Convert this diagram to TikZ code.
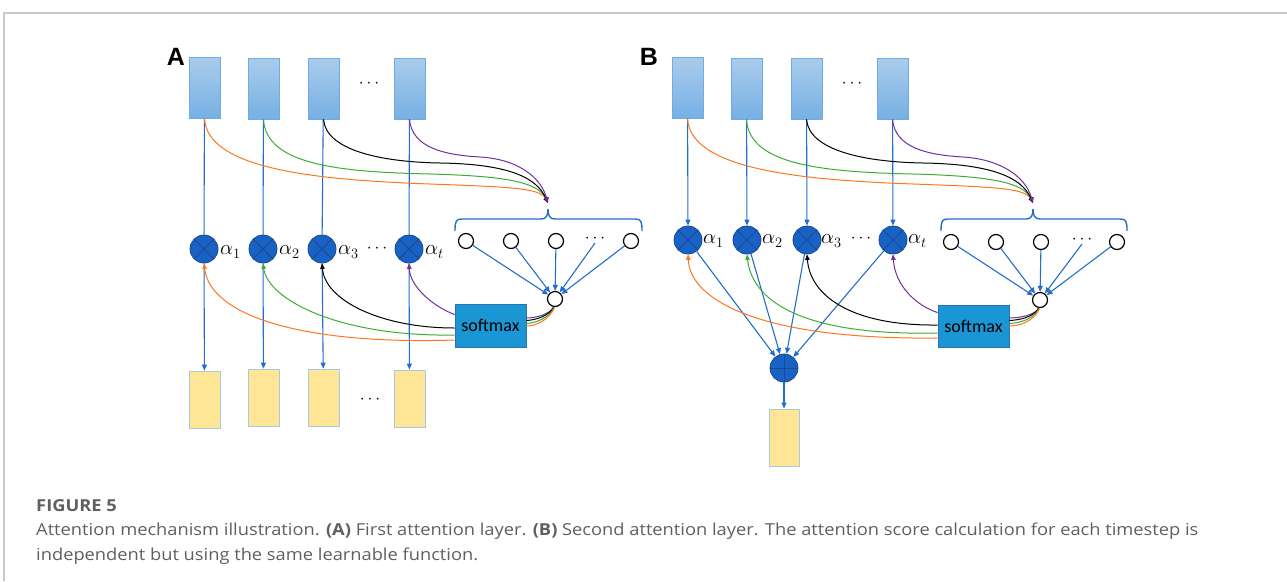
\documentclass[tikz,border=0pt]{standalone}
\usepackage{fontspec}
\setmainfont{Open Sans}
\newfontfamily\calibfont{Carlito}
\newfontfamily\headfont{Liberation Sans}
\usetikzlibrary{arrows.meta,calc}

\definecolor{lineblue}{RGB}{35,110,205}
\definecolor{boxtop}{RGB}{170,204,236}
\definecolor{boxbot}{RGB}{118,176,228}
\definecolor{boxedge}{RGB}{112,172,226}
\definecolor{paleyellow}{RGB}{255,229,150}
\definecolor{yedge}{RGB}{165,200,228}
\definecolor{opfill}{RGB}{24,98,196}
\definecolor{opedge}{RGB}{28,72,150}
\definecolor{smfill}{RGB}{27,150,212}
\definecolor{smedge}{RGB}{46,112,178}
\definecolor{corange}{RGB}{255,118,28}
\definecolor{cgreen}{RGB}{62,172,52}
\definecolor{cpurple}{RGB}{112,48,160}
\definecolor{framegray}{RGB}{200,200,200}
\definecolor{capgray}{RGB}{95,95,95}

\tikzset{
  inbox/.style={draw=boxedge, line width=0.8pt, top color=boxtop, bottom color=boxbot,
    minimum width=31pt, minimum height=61pt, inner sep=0pt},
  outbox/.style={draw=yedge, fill=paleyellow, line width=0.8pt,
    minimum width=31pt, minimum height=57pt, inner sep=0pt},
  mult/.style={circle, draw=opedge, fill=opfill, minimum size=28pt, inner sep=0pt, line width=0.8pt,
    path picture={\draw[opedge, line width=0.8pt]
      (path picture bounding box.north west) -- (path picture bounding box.south east)
      (path picture bounding box.north east) -- (path picture bounding box.south west);}},
  addop/.style={circle, draw=opedge, fill=opfill, minimum size=28pt, inner sep=0pt, line width=0.8pt,
    path picture={\draw[opedge, line width=0.8pt]
      (path picture bounding box.north) -- (path picture bounding box.south)
      (path picture bounding box.west) -- (path picture bounding box.east);}},
  scoreunit/.style={circle, draw=black, fill=white, minimum size=15pt, inner sep=0pt, line width=1.2pt},
  smbox/.style={draw=smedge, fill=smfill, line width=0.8pt, minimum width=71pt, minimum height=43pt,
    inner sep=0pt, font=\calibfont\fontsize{18}{20}\selectfont},
  flowline/.style={lineblue, line width=1.1pt},
  flowarr/.style={flowline, -{Triangle[length=6pt,width=5pt]}},
  linkline/.style={line width=1pt},
  linkarr/.style={line width=1pt, -{Triangle[length=5.5pt,width=4.5pt]}},
  bracket/.style={lineblue, line width=1.4pt},
  wtlabel/.style={anchor=west, inner sep=0pt, font=\fontsize{20}{20}\selectfont},
  ellip/.style={inner sep=0pt, font=\fontsize{16}{16}\selectfont},
  panellabel/.style={inner sep=0pt, font=\headfont\bfseries\fontsize{25}{25}\selectfont},
  captext/.style={anchor=base west, inner sep=0pt, text=capgray, xscale=1.108, transform shape,
    font=\fontsize{16.5}{20}\selectfont}
}

\begin{document}
\begin{tikzpicture}[x=1pt,y=-1pt]
\useasboundingbox (0,0) rectangle (1287,581);
% outer frame lines
\draw[framegray, line width=1.5pt] (4,581) -- (4,13) -- (1287,13);

% ================= Panel A =================
\node[panellabel] (labA) at (176,57) {A};
\node[inbox] (a1) at (204.5,87.5) {};
\node[inbox] (a2) at (263.5,88.5) {};
\node[inbox] (a3) at (323.5,88.5) {};
\node[inbox] (a4) at (409.5,88.5) {};
\node[ellip] (adots) at (369,84) {$\cdots$};

\node[mult] (ma1) at (204,249) {};
\node[mult] (ma2) at (263,249) {};
\node[mult] (ma3) at (322,249) {};
\node[mult] (ma4) at (409,249) {};
\node[wtlabel] (wa1) at (220,252) {$\alpha_1$};
\node[wtlabel] (wa2) at (279,252) {$\alpha_2$};
\node[wtlabel] (wa3) at (338,252) {$\alpha_3$};
\node[ellip] (wadots) at (377,249) {$\cdots$};
\node[wtlabel] (wa4) at (425,252) {$\alpha_t$};

\node[outbox] (ya1) at (204.5,399.5) {};
\node[outbox] (ya2) at (263.5,397.5) {};
\node[outbox] (ya3) at (323.5,397.5) {};
\node[outbox] (ya4) at (409.5,398.5) {};
\node[ellip] (ydots) at (370,400) {$\cdots$};

\node[scoreunit] (ua1) at (466,241) {};
\node[scoreunit] (ua2) at (511,241) {};
\node[scoreunit] (ua3) at (556,241) {};
\node[ellip] (uadots) at (595,239) {$\cdots$};
\node[scoreunit] (ua5) at (631,241) {};
\node[scoreunit] (sa) at (555,299) {};
\node[smbox] (sma) at (490.5,325.5) {softmax};
\coordinate (tipa) at (548,203);

% bracket over the score units
\draw[bracket] (455,231) .. controls (455,221) and (456,219) .. (462,219) -- (541,219)
  .. controls (546,219) and (548,216) .. (548,209)
  .. controls (548,216) and (550,219) .. (555,219) -- (635,219)
  .. controls (641,219) and (642,221) .. (642,231);

% value flow
\foreach \i in {1,...,4} {
  \draw[flowline] (a\i) -- (ma\i);
  \draw[flowarr] (ma\i) -- (ya\i);
}
% scores
\draw[flowarr] (ua1) -- (sa);
\draw[flowarr] (ua2) -- (sa);
\draw[flowarr] (ua3) -- (sa);
\draw[flowarr] (uadots.south) -- (sa);
\draw[flowarr] (ua5) -- (sa);

% inputs to the scoring function
\draw[linkarr, corange] (a1.south) .. controls (207,170) and (320,180) .. (430,184)
  .. controls (510,187) and (540,188) .. (tipa);
\draw[linkarr, cgreen] (a2.south) .. controls (266,165) and (340,172) .. (430,174)
  .. controls (505,176) and (538,182) .. (tipa);
\draw[linkarr, black] (a3.south) .. controls (326,150) and (380,162) .. (440,163)
  .. controls (505,164) and (536,176) .. (tipa);
\draw[linkarr, cpurple] (a4.south) .. controls (412,148) and (445,155) .. (480,157)
  .. controls (515,159) and (540,175) .. (tipa);

% score to softmax
\draw[linkline, cpurple] ($(sa.south)+(-1,0)$) .. controls (550,314) and (536,318) .. ($(sma.east)+(0,-7.5)$);
\draw[linkline, black] ($(sa.south)+(-1.5,0)$) .. controls (549,316) and (536,320) .. ($(sma.east)+(0,-5)$);
\draw[linkline, cgreen] ($(sa.south)+(-1,0.5)$) .. controls (549,318) and (536,323) .. ($(sma.east)+(0,-2)$);
\draw[linkline, corange] ($(sa.south)+(-0.5,0.5)$) .. controls (549,320) and (536,326) .. ($(sma.east)+(0,0.5)$);

% softmax weights
\draw[linkarr, corange] ($(sma.west)+(0,14.5)$) .. controls (300,345) and (210,315) .. (ma1.south);
\draw[linkarr, cgreen] ($(sma.west)+(0,9.5)$) .. controls (340,337) and (268,300) .. (ma2.south);
\draw[linkarr, black] ($(sma.west)+(0,2.5)$) .. controls (380,328) and (325,300) .. (ma3.south);
\draw[linkarr, cpurple] ($(sma.north west)+(0,11)$) .. controls (430,305) and (410,285) .. (ma4.south);

% ================= Panel B =================
\node[panellabel] (labB) at (649,57) {B};
\node[inbox] (b1) at (687.5,87.5) {};
\node[inbox] (b2) at (746.5,88.5) {};
\node[inbox] (b3) at (806.5,88.5) {};
\node[inbox] (b4) at (892.5,88.5) {};
\node[ellip] (bdots) at (852,84) {$\cdots$};

\node[mult] (mb1) at (688,240) {};
\node[mult] (mb2) at (747,240) {};
\node[mult] (mb3) at (807,240) {};
\node[mult] (mb4) at (893,240) {};
\node[wtlabel] (wb1) at (703,241) {$\alpha_1$};
\node[wtlabel] (wb2) at (762,241) {$\alpha_2$};
\node[wtlabel] (wb3) at (821,241) {$\alpha_3$};
\node[ellip] (wbdots) at (861,239) {$\cdots$};
\node[wtlabel] (wb4) at (908,241) {$\alpha_t$};

\node[addop] (plus) at (784,368) {};
\node[outbox, minimum width=30pt] (yb) at (784,437.5) {};

\node[scoreunit] (ub1) at (951,242) {};
\node[scoreunit] (ub2) at (996,242) {};
\node[scoreunit] (ub3) at (1041,242) {};
\node[ellip] (ubdots) at (1082,240) {$\cdots$};
\node[scoreunit] (ub5) at (1117,242) {};
\node[scoreunit] (sb) at (1040,300) {};
\node[smbox, minimum height=42pt] (smb) at (973.5,326) {softmax};
\coordinate (tipb) at (1033,203);

\draw[bracket] (941,231) .. controls (941,221) and (942,219) .. (948,219) -- (1026,219)
  .. controls (1031,219) and (1033,216) .. (1033,209)
  .. controls (1033,216) and (1035,219) .. (1040,219) -- (1120,219)
  .. controls (1126,219) and (1127,221) .. (1127,231);

\foreach \i in {1,...,4} {
  \draw[flowarr] (b\i) -- (mb\i);
  \draw[flowarr] (mb\i) -- (plus);
}
\draw[flowarr] (plus) -- (yb);

\draw[flowarr] (ub1) -- (sb);
\draw[flowarr] (ub2) -- (sb);
\draw[flowarr] (ub3) -- (sb);
\draw[flowarr] (ubdots.south) -- (sb);
\draw[flowarr] (ub5) -- (sb);

\draw[linkarr, corange] (b1.south) .. controls (690,170) and (803,180) .. (913,184)
  .. controls (993,187) and (1025,188) .. (tipb);
\draw[linkarr, cgreen] (b2.south) .. controls (749,165) and (823,172) .. (913,174)
  .. controls (988,176) and (1023,182) .. (tipb);
\draw[linkarr, black] (b3.south) .. controls (809,150) and (863,162) .. (923,163)
  .. controls (988,164) and (1021,176) .. (tipb);
\draw[linkarr, cpurple] (b4.south) .. controls (895,148) and (928,155) .. (963,157)
  .. controls (998,159) and (1025,175) .. (tipb);

\draw[linkline, cpurple] ($(sb.south)+(-1,0)$) .. controls (1035,315) and (1020,318) .. ($(smb.east)+(0,-8)$);
\draw[linkline, black] ($(sb.south)+(-1.5,0)$) .. controls (1034,317) and (1020,320) .. ($(smb.east)+(0,-5.5)$);
\draw[linkline, cgreen] ($(sb.south)+(-1,0.5)$) .. controls (1034,319) and (1020,323) .. ($(smb.east)+(0,-2.5)$);
\draw[linkline, corange] ($(sb.south)+(-0.5,0.5)$) .. controls (1034,321) and (1020,326) .. ($(smb.east)+(0,0)$);

\draw[linkarr, corange] ($(smb.west)+(0,12)$) .. controls (760,340) and (690,300) .. (mb1.south);
\draw[linkarr, cgreen] ($(smb.west)+(0,7)$) .. controls (800,336) and (752,300) .. (mb2.south);
\draw[linkarr, black] ($(smb.west)+(0,-1)$) .. controls (850,326) and (810,295) .. (mb3.south);
\draw[linkarr, cpurple] ($(smb.north west)+(0,8)$) .. controls (915,305) and (895,285) .. (mb4.south);

% ================= Caption =================
\node[captext, font=\bfseries\fontsize{16.5}{20}\selectfont] (fig) at (36,511) {FIGURE 5};
\node[captext] (cap1) at (36,535) {Attention mechanism illustration. \textbf{(A)} First attention layer. \textbf{(B)} Second attention layer. The attention score calculation for each timestep is};
\node[captext] (cap2) at (36,560) {independent but using the same learnable function.};
\end{tikzpicture}
\end{document}
